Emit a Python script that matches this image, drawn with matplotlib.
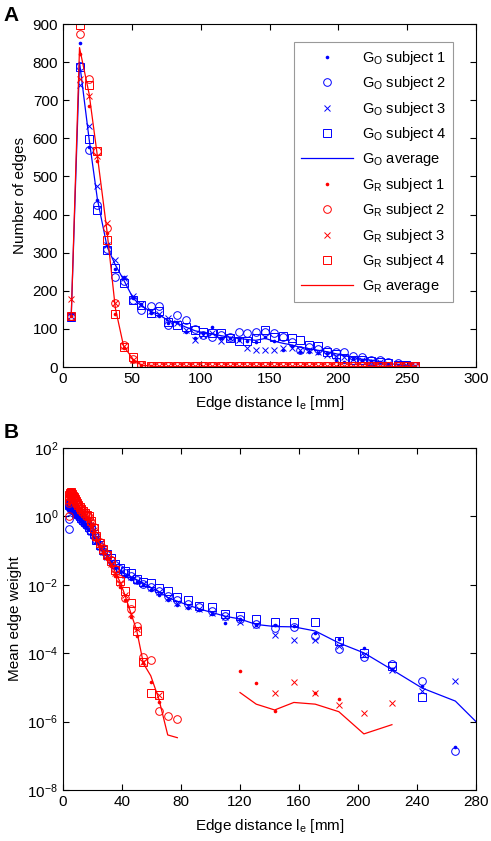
import numpy as np
import matplotlib
matplotlib.use("Agg")
import matplotlib.pyplot as plt
from matplotlib.ticker import NullLocator

plt.rcParams["font.family"] = ["Liberation Sans", "DejaVu Sans"]
plt.rcParams["mathtext.fontset"] = "custom"
plt.rcParams["mathtext.rm"] = "Liberation Sans"
plt.rcParams["mathtext.it"] = "Liberation Sans:italic"
plt.rcParams["mathtext.default"] = "regular"
plt.rcParams["font.size"] = 10

nan = np.nan
BLUE, RED = "#0000ff", "#ff0000"

# ---- panel A: number of edges per distance bin
xA = [6, 12, 19, 25, 32, 38, 44, 51, 57, 64, 70, 76, 83, 89, 96, 102, 108, 115, 121, 128,
      134, 140, 147, 153, 160, 166, 172, 179, 185, 192, 198, 204, 211, 217, 224, 230, 236, 243, 249, 256]
gO_avg = [135, 800, 597, 440, 316, 268, 229, 180, 160, 145, 138, 122, 115, 105, 95, 90, 87, 82, 78, 75,
          72, 70, 75, 68, 62, 58, 52, 48, 44, 40, 35, 30, 25, 20, 18, 14, 10, 6, 4, 2]
gO_s1 = [137, 850, 576, 437, 320, 258, 235, 180, 165, 141, 135, 115, 118, 93, 75, 88, 106, 75, 75, 71,
         67, 65, 80, 67, 45, 55, 40, 40, 36, 36, 18, 14, 22, 18, 15, 12, 8, 5, 3, 2]
gO_s2 = [130, 790, 569, 426, 310, 237, 225, 175, 150, 159, 159, 110, 137, 124, 100, 85, 80, 85, 80, 93,
         89, 93, 93, 89, 78, 65, 45, 52, 47, 45, 40, 40, 28, 25, 18, 18, 14, 10, 5, 3]
gO_s3 = [135, 739, 632, 474, 320, 282, 234, 185, 166, 146, 140, 128, 115, 97, 71, 84, 90, 67, 75, 70,
         49, 45, 45, 45, 49, 49, 45, 45, 40, 32, 30, 25, 20, 18, 14, 12, 9, 6, 4, 2]
gO_s4 = [130, 787, 597, 411, 308, 260, 221, 176, 163, 141, 146, 119, 110, 106, 97, 93, 89, 89, 75, 67,
         67, 75, 97, 80, 82, 75, 71, 58, 54, 40, 35, 23, 18, 18, 15, 12, 10, 6, 4, 2]
gR_avg = [135, 838, 716, 553, 355, 155, 55, 20, 5, 2] + [1] * 30
gR_s1 = [135, 821, 684, 540, 352, 139, 50, 15, 4, 2] + [1] * 30
gR_s2 = [133, 874, 755, 566, 366, 168, 58, 22, 6, 2] + [2] * 30
gR_s3 = [179, 755, 711, 553, 379, 168, 55, 18, 5, 2] + [2] * 30
gR_s4 = [135, 897, 739, 566, 332, 139, 52, 25, 6, 2] + [2] * 30

# ---- panel B: mean edge weight (log10 values)
xB = [4.0, 4.4, 4.8, 5.2, 5.7, 6.2, 6.8, 7.4, 8.1, 8.8, 9.6, 10.5, 11.4, 12.4, 13.5, 14.7, 16.0, 17.5,
      19.1, 20.8, 22.7, 24.8, 27.1, 29.6, 32.3, 35.3, 38.5, 42.0, 45.8, 50.0, 54.5, 59.5, 65.0, 71.0,
      77.5, 84.5, 92.0, 101.0, 110.0, 120.0, 131.0, 143.5, 156.5, 171.0, 187.0, 204.0, 223.0, 243.5,
      266.0, 290.0]
wO_avg = [0.30, 0.32, 0.30, 0.28, 0.26, 0.24, 0.22, 0.18, 0.14, 0.10, 0.06, 0.02, -0.04, -0.08, -0.14,
          -0.20, -0.27, -0.34, -0.45, -0.57, -0.72, -0.88, -1.02, -1.15, -1.30, -1.45, -1.57, -1.67,
          -1.76, -1.85, -1.95, -2.08, -2.20, -2.37, -2.48, -2.59, -2.70, -2.81, -2.92, -3.00, -3.16,
          -3.22, -3.23, -3.35, -3.70, -3.99, -4.48, -5.02, -5.40, -6.43]
wO_s1 = [0.25, 0.30, 0.28, 0.27, 0.22, 0.22, 0.20, 0.15, 0.10, 0.08, 0.02, -0.02, -0.08, -0.12, -0.18,
         -0.24, -0.30, -0.38, -0.50, -0.62, -0.76, -0.92, -1.06, -1.20, -1.36, -1.50, -1.62, -1.74,
         -1.82, -1.92, -2.02, -2.15, -2.30, -2.45, -2.59, -2.69, -2.75, -2.85, -3.12, -2.99, -3.17,
         -3.18, -3.20, -3.42, -3.58, -3.85, -4.45, -4.96, -6.73, nan]
wO_s2 = [-0.37, -0.08, 0.24, 0.20, 0.28, 0.26, 0.24, 0.20, 0.16, 0.12, 0.08, 0.04, -0.02, -0.06, -0.12,
         -0.18, -0.25, -0.32, -0.42, -0.55, -0.70, -0.86, -1.00, -1.13, -1.28, -1.42, -1.55, -1.66,
         -1.75, -1.85, -1.97, -2.05, -2.18, -2.32, -2.45, -2.55, -2.66, -2.78, -2.90, -3.00, -3.15,
         -3.25, -3.22, -3.50, -3.88, -4.11, -4.33, -4.81, -6.86, nan]
wO_s3 = [0.28, 0.30, 0.30, 0.27, 0.25, 0.22, 0.20, 0.17, 0.12, 0.08, 0.04, 0.00, -0.06, -0.10, -0.16,
         -0.22, -0.29, -0.36, -0.47, -0.58, -0.73, -0.90, -1.04, -1.18, -1.32, -1.46, -1.58, -1.70,
         -1.78, -1.88, -1.98, -2.10, -2.22, -2.40, -2.52, -2.62, -2.72, -2.83, -2.95, -3.10, -3.18,
         -3.48, -3.60, -3.60, -3.80, -4.05, -4.50, -5.11, -4.81, nan]
wO_s4 = [0.32, 0.35, 0.34, 0.32, 0.30, 0.28, 0.26, 0.22, 0.18, 0.14, 0.10, 0.06, 0.00, -0.04, -0.10,
         -0.16, -0.22, -0.30, -0.40, -0.52, -0.68, -0.84, -0.98, -1.10, -1.23, -1.38, -1.50, -1.60,
         -1.66, -1.83, -1.92, -1.96, -2.10, -2.17, -2.37, -2.44, -2.63, -2.66, -2.86, -2.90, -3.00,
         -3.10, -3.08, -3.10, -3.65, -3.99, -4.38, -5.28, nan, nan]
wR_avg = [0.40, 0.55, 0.62, 0.66, 0.65, 0.62, 0.58, 0.54, 0.48, 0.42, 0.36, 0.30, 0.24, 0.18, 0.12,
          0.06, 0.00, -0.05, -0.20, -0.38, -0.62, -0.80, -0.98, -1.15, -1.35, -1.62, -1.90, -2.30,
          -2.80, -3.34, -4.30, -4.66, -5.34, -6.39, -6.47, nan, nan, nan, nan, -5.15, -5.49, -5.66,
          -5.44, -5.49, -5.71, -6.36, -6.09, nan, nan, nan]
wR_s1 = [0.35, 0.50, 0.58, 0.62, 0.62, 0.60, 0.55, 0.50, 0.45, 0.40, 0.33, 0.27, 0.20, 0.15, 0.08,
         0.02, -0.05, -0.12, -0.28, -0.45, -0.70, -0.88, -1.06, -1.24, -1.45, -1.75, -2.05, -2.45,
         -2.95, -3.50, -4.30, -4.85, -5.44, nan, nan, nan, nan, nan, nan, -4.51, -4.88, -5.68,
         nan, -5.17, -5.34, nan, nan, nan, nan, nan]
wR_s2 = [0.00, 0.40, 0.60, 0.68, 0.70, 0.66, 0.62, 0.58, 0.52, 0.46, 0.40, 0.34, 0.28, 0.22, 0.16,
         0.10, 0.04, -0.02, -0.16, -0.32, -0.56, -0.74, -0.92, -1.10, -1.28, -1.55, -1.82, -2.40,
         -2.70, -3.20, -4.10, -4.19, -5.68, -5.83, -5.92, nan, nan, nan, nan, nan, nan, nan,
         nan, nan, nan, nan, nan, nan, nan, nan]
wR_s3 = [0.45, 0.58, 0.64, 0.66, 0.64, 0.61, 0.57, 0.53, 0.47, 0.41, 0.35, 0.29, 0.23, 0.17, 0.11,
         0.05, -0.01, -0.08, -0.22, -0.40, -0.64, -0.82, -1.00, -1.16, -1.38, -1.65, -1.95, -2.30,
         -2.85, -3.30, -4.25, nan, -5.23, nan, nan, nan, nan, nan, nan, nan, nan, -5.15,
         -4.85, -5.17, -5.50, -5.75, -5.46, nan, nan, nan]
wR_s4 = [0.50, 0.62, 0.68, 0.70, 0.68, 0.65, 0.61, 0.57, 0.51, 0.45, 0.39, 0.33, 0.27, 0.21, 0.15,
         0.09, 0.03, 0.00, -0.14, -0.34, -0.58, -0.78, -0.96, -1.12, -1.30, -1.58, -1.88, -2.17,
         -2.54, -3.34, -4.27, -5.17, -5.23, nan, nan, nan, nan, nan, nan, nan, nan, nan,
         nan, nan, nan, nan, nan, nan, nan, nan]

MARKERS = [dict(marker="o", ms=2.6, mfc=None, mew=0),
           dict(marker="o", ms=5.5, mfc="none", mew=0.7),
           dict(marker="x", ms=4.5, mew=0.7),
           dict(marker="s", ms=5.5, mfc="none", mew=0.7)]


def draw(ax, x, subs, avg, color, name, tf=lambda v: v):
    for i, (s, m) in enumerate(zip(subs, MARKERS)):
        kw = dict(m)
        if kw.get("mfc") is None:
            kw["mfc"] = color
        ax.plot(x, tf(np.array(s, float)), ls="none", color=color, mec=color,
                label=f"{name} subject {i + 1}", **kw)
    ax.plot(x, tf(np.array(avg, float)), color=color, lw=0.9, label=f"{name} average")


def style(ax):
    ax.tick_params(direction="in", top=True, right=True, length=4, width=0.8, labelsize=11)
    for s in ax.spines.values():
        s.set_linewidth(0.8)


fig = plt.figure(figsize=(4.91, 8.41), dpi=100)
axA = fig.add_axes([63 / 491, 1 - 367 / 841, 413 / 491, 343 / 841])
axB = fig.add_axes([63 / 491, 1 - 790 / 841, 413 / 491, 342 / 841])

draw(axA, xA, [gO_s1, gO_s2, gO_s3, gO_s4], gO_avg, BLUE, "G$_O$")
draw(axA, xA, [gR_s1, gR_s2, gR_s3, gR_s4], gR_avg, RED, "G$_R$")
axA.set_xlim(0, 300); axA.set_ylim(0, 900)
axA.set_xticks(range(0, 301, 50)); axA.set_yticks(range(0, 901, 100))
axA.set_xlabel("Edge distance l$_e$ [mm]", fontsize=11, labelpad=6)
axA.set_ylabel("Number of edges", fontsize=11)
style(axA)
leg = axA.legend(loc="upper right", bbox_to_anchor=(0.944, 0.947), fontsize=10.5, handlelength=3.6,
                 labelspacing=0.52, fancybox=False, edgecolor="#808080", borderpad=0.45,
                 borderaxespad=0, handletextpad=0.6)
leg.get_frame().set_linewidth(0.8)

exp = lambda v: 10.0 ** v
draw(axB, xB, [wO_s1, wO_s2, wO_s3, wO_s4], wO_avg, BLUE, "G$_O$", exp)
draw(axB, xB, [wR_s1, wR_s2, wR_s3, wR_s4], wR_avg, RED, "G$_R$", exp)
axB.set_yscale("log")
axB.set_xlim(0, 280); axB.set_ylim(1e-8, 1e2)
axB.set_xticks(range(0, 281, 40))
axB.set_yticks([1e-8, 1e-6, 1e-4, 1e-2, 1e0, 1e2])
axB.yaxis.set_minor_locator(NullLocator())
axB.set_xlabel("Edge distance l$_e$ [mm]", fontsize=11, labelpad=6)
axB.set_ylabel("Mean edge weight", fontsize=11)
style(axB)

fig.text(0.008, 0.993, "A", fontsize=15, fontweight="bold", va="top")
fig.text(0.008, 0.497, "B", fontsize=15, fontweight="bold", va="top")

fig.savefig("out.png", dpi=100)
